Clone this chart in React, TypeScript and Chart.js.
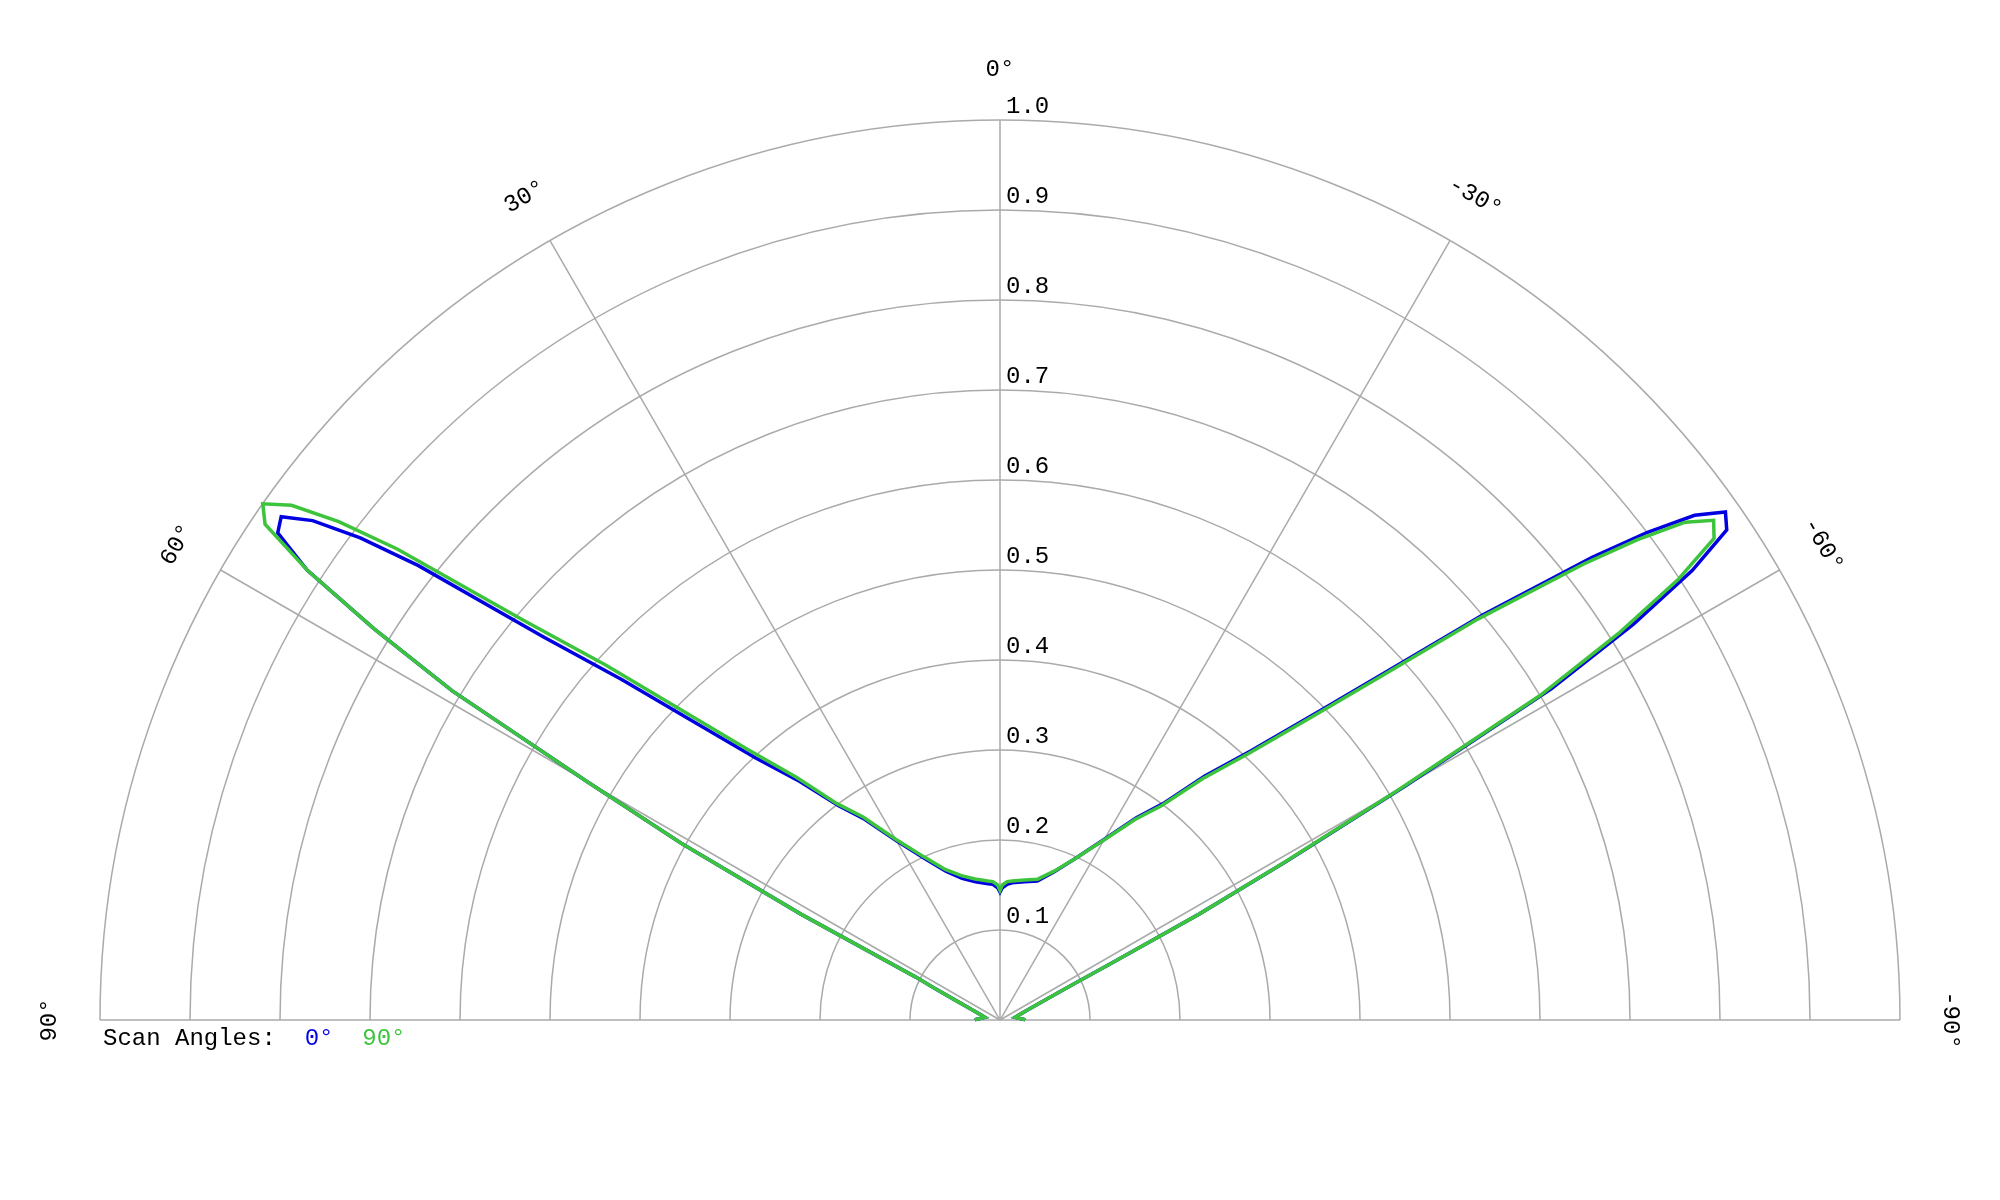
import { useEffect, useRef } from "react";
import { Chart, registerables } from "chart.js";

Chart.register(...registerables);

// scan angle of each sample, degrees (positive = left of broadside)
const THETA_DEG = [
  90, 88, 85, 80, 75, 70, 66, 64, 63, 62,
  61, 60, 59, 58, 57, 56, 55, 54, 53, 52,
  50, 48, 46, 43, 40, 37, 34, 30, 25, 20,
  15, 10, 5, 3, 1, 0, -1, -3, -5, -10,
  -15, -20, -25, -30, -34, -37, -40, -43, -46, -48,
  -50, -52, -53, -54, -55, -56, -57, -58, -59, -60,
  -61, -62, -63, -64, -66, -70, -75, -80, -85, -88,
  -90,
];

// normalised pattern, 0° scan plane
const GAIN_SCAN_0 = [
  0.028, 0.026, 0.021, 0.017, 0.022, 0.033, 0.055, 0.082, 0.105, 0.25,
  0.405, 0.53, 0.71, 0.82, 0.918, 0.968, 0.975, 0.944, 0.89, 0.82,
  0.662, 0.565, 0.483, 0.398, 0.346, 0.298, 0.269, 0.23, 0.198, 0.176,
  0.163, 0.156, 0.152, 0.151, 0.147, 0.142, 0.147, 0.151, 0.153, 0.156,
  0.16, 0.175, 0.198, 0.232, 0.271, 0.301, 0.354, 0.409, 0.495, 0.579,
  0.7, 0.835, 0.9, 0.954, 0.984, 0.974, 0.917, 0.83, 0.715, 0.52,
  0.365, 0.25, 0.14, 0.09, 0.056, 0.033, 0.022, 0.017, 0.021, 0.026,
  0.028,
];

// normalised pattern, 90° scan plane
const GAIN_SCAN_90 = [
  0.028, 0.026, 0.021, 0.017, 0.022, 0.033, 0.055, 0.082, 0.105, 0.25,
  0.405, 0.53, 0.71, 0.82, 0.918, 0.985, 1.0, 0.973, 0.92, 0.85,
  0.69, 0.589, 0.502, 0.411, 0.352, 0.301, 0.272, 0.232, 0.2, 0.178,
  0.166, 0.159, 0.155, 0.154, 0.15, 0.144, 0.15, 0.154, 0.155, 0.158,
  0.162, 0.176, 0.198, 0.231, 0.269, 0.298, 0.35, 0.405, 0.49, 0.573,
  0.693, 0.823, 0.887, 0.941, 0.968, 0.957, 0.898, 0.81, 0.7, 0.51,
  0.36, 0.25, 0.14, 0.09, 0.056, 0.033, 0.022, 0.017, 0.021, 0.026,
  0.028,
];

const RING_TICKS = [0.1, 0.2, 0.3, 0.4, 0.5, 0.6, 0.7, 0.8, 0.9, 1.0];
const RING_LABELS = ["0.1", "0.2", "0.3", "0.4", "0.5", "0.6", "0.7", "0.8", "0.9", "1.0"];
const SPOKE_ANGLES = [90, 60, 30, 0, -30, -60, -90];
const SPOKE_LABELS = ["90°", "60°", "30°", "0°", "-30°", "-60°", "-90°"];
const LEGEND_TITLE = "Scan Angles:";
const SCAN_LABELS = ["0°", "90°"];

const BLUE = "#0000e0";
const GREEN = "#3cc43c";
const GRID = "#aaaaaa";
const FONT = '24px "Liberation Mono", "DejaVu Sans Mono", monospace';

const toXY = (gain: number[]) =>
  THETA_DEG.map((t, i) => {
    const a = (t * Math.PI) / 180;
    return { x: -gain[i] * Math.sin(a), y: gain[i] * Math.cos(a) };
  });

const polarGrid = {
  id: "polarGrid",
  beforeDatasetsDraw(chart: any) {
    const { ctx, scales } = chart;
    const cx = scales.x.getPixelForValue(0);
    const cy = scales.y.getPixelForValue(0);
    const px = (v: number) => scales.x.getPixelForValue(v) - cx;
    const R = px(1);

    ctx.save();
    ctx.strokeStyle = GRID;
    ctx.lineWidth = 1.5;
    RING_TICKS.forEach((v) => {
      ctx.beginPath();
      ctx.arc(cx, cy, px(v), Math.PI, 2 * Math.PI);
      ctx.stroke();
    });
    SPOKE_ANGLES.forEach((deg) => {
      const a = (deg * Math.PI) / 180;
      ctx.beginPath();
      ctx.moveTo(cx, cy);
      ctx.lineTo(cx - R * Math.sin(a), cy - R * Math.cos(a));
      ctx.stroke();
    });

    ctx.fillStyle = "#000";
    ctx.font = FONT;
    ctx.textAlign = "left";
    ctx.textBaseline = "alphabetic";
    RING_TICKS.forEach((v, i) => {
      ctx.fillText(RING_LABELS[i], cx + 6, cy - px(v) - 7);
    });
    ctx.restore();
  },
  afterDraw(chart: any) {
    const { ctx, scales } = chart;
    const cx = scales.x.getPixelForValue(0);
    const cy = scales.y.getPixelForValue(0);
    const labelR = scales.x.getPixelForValue(1.056) - cx;

    ctx.save();
    ctx.font = FONT;
    ctx.fillStyle = "#000";
    ctx.textAlign = "center";
    ctx.textBaseline = "middle";
    SPOKE_ANGLES.forEach((deg, i) => {
      const a = (deg * Math.PI) / 180;
      ctx.save();
      ctx.translate(cx - labelR * Math.sin(a), cy - labelR * Math.cos(a));
      ctx.rotate(-a);
      ctx.fillText(SPOKE_LABELS[i], 0, 0);
      ctx.restore();
    });

    // legend under the left end of the baseline
    ctx.textAlign = "left";
    ctx.textBaseline = "alphabetic";
    let lx = scales.x.getPixelForValue(-1) + 3;
    const ly = cy + 25;
    ctx.fillText(LEGEND_TITLE + "  ", lx, ly);
    lx += ctx.measureText(LEGEND_TITLE + "  ").width;
    const colors = [BLUE, GREEN];
    SCAN_LABELS.forEach((lab, i) => {
      ctx.fillStyle = colors[i];
      ctx.fillText(lab, lx, ly);
      lx += ctx.measureText(lab + "  ").width;
    });
    ctx.restore();
  },
};

export default function App() {
  const canvasRef = useRef<HTMLCanvasElement>(null);

  useEffect(() => {
    const ctx = canvasRef.current?.getContext("2d");
    if (!ctx) return;

    const chart = new Chart(ctx, {
      type: "scatter",
      data: {
        datasets: [
          // green first so it is drawn on top of the blue trace
          {
            label: SCAN_LABELS[1],
            data: toXY(GAIN_SCAN_90),
            showLine: true,
            borderColor: GREEN,
            borderWidth: 3.5,
            pointRadius: 0,
            tension: 0,
            clip: false as any,
          },
          {
            label: SCAN_LABELS[0],
            data: toXY(GAIN_SCAN_0),
            showLine: true,
            borderColor: BLUE,
            borderWidth: 3.5,
            pointRadius: 0,
            tension: 0,
            clip: false as any,
          },
        ],
      },
      options: {
        animation: false,
        responsive: true,
        maintainAspectRatio: false,
        layout: { padding: { left: 100, right: 100, top: 120, bottom: 180 } },
        scales: {
          x: { type: "linear", min: -1, max: 1, display: false },
          y: { type: "linear", min: 0, max: 1, display: false },
        },
        plugins: {
          legend: { display: false },
          tooltip: { enabled: false },
        },
      },
      plugins: [polarGrid],
    });

    return () => chart.destroy();
  }, []);

  return (
    <div style={{ position: "absolute", left: 0, top: 0, width: 2000, height: 1200, background: "#fff" }}>
      <canvas ref={canvasRef} />
    </div>
  );
}
